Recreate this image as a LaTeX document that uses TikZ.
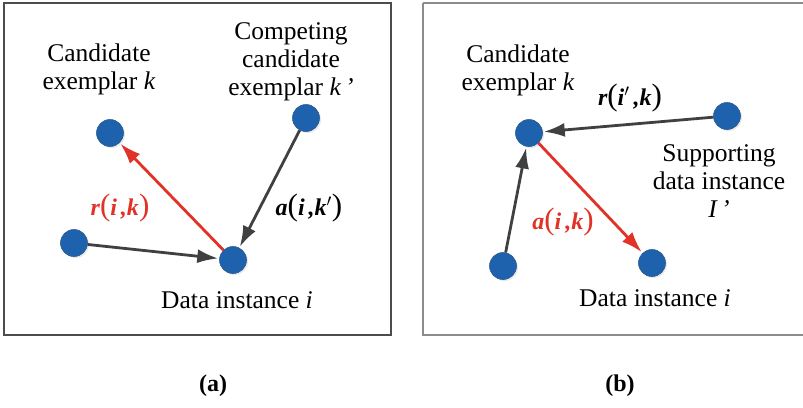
\documentclass[tikz,border=0pt]{standalone}
\usepackage{fontspec}
\setmainfont{Liberation Serif}
\usetikzlibrary{arrows.meta,shadows}
\definecolor{DotBlue}{HTML}{1E62AE}
\definecolor{DotEdge}{HTML}{2A5A90}
\definecolor{ArrRed}{HTML}{E23127}
\definecolor{ArrGray}{HTML}{404040}

\newcommand{\bigpar}[1]{{\fontsize{31}{31}\selectfont\upshape\mdseries#1}}

\tikzset{
  dot/.style={circle, minimum size=27pt, inner sep=0pt, fill=DotBlue, draw=DotEdge, line width=0.6pt,
    drop shadow={shadow xshift=1.5pt, shadow yshift=-1.5pt, opacity=0.18}},
  txt/.style={font=\fontsize{25.5}{28}\selectfont, align=center, text=black},
  lbl/.style={font=\fontsize{24}{26}\selectfont\bfseries\itshape},
  msg/.style={-{Latex[length=21pt,width=14pt]}, line width=2.8pt, ArrGray, shorten >=1pt},
  hot/.style={msg, ArrRed},
}

\begin{document}
\begin{tikzpicture}[x=1pt, y=-1pt]
    \useasboundingbox (0,0) rectangle (803,407);

    % Panel frames
    \draw[line width=1.2pt, black!70] (4,3) rectangle (391,335);
    \draw[line width=1.2pt, black!45] (423,3) -- (423,335) -- (803,335);
    \draw[line width=1.2pt, black!45] (423,3) -- (803,3);

    % (a) responsibility
    \node[dot] (ka) at (110,133) {};
    \node[dot] (kpa) at (306,118) {};
    \node[dot] (oa) at (74,243) {};
    \node[dot] (ia) at (233,260) {};

    \node[txt] (ka-txt) at (99,69) {Candidate\\exemplar \textit{k}};
    \node[txt] (kpa-txt) at (291,62) {Competing\\candidate\\exemplar \textit{k\,’}};
    \node[txt] (ia-txt) at (237,300) {Data instance \textit{i}};

    \draw[hot] (ia) -- (ka);
    \draw[msg] (kpa) -- (ia);
    \draw[msg] (oa) -- (ia);

    \node[lbl, ArrRed] (r-a) at (120,208) {r\bigpar{(}i\,,k\bigpar{)}};
    \node[lbl] (a-a) at (309,208) {a\bigpar{(}i\,,k$'$\bigpar{)}};

    % (b) availability
    \node[dot] (kb) at (529,133) {};
    \node[dot] (sb) at (727,116) {};
    \node[dot] (ob) at (503,266) {};
    \node[dot] (ib) at (652,263) {};

    \node[txt] (kb-txt) at (518,70) {Candidate\\exemplar \textit{k}};
    \node[txt] (sb-txt) at (719,181) {Supporting\\data instance\\\textit{I\,’}};
    \node[txt] (ib-txt) at (655,298) {Data instance \textit{i}};

    \draw[msg] (sb) -- (kb);
    \draw[msg] (ob) -- (kb);
    \draw[hot] (kb) -- (ib);

    \node[lbl] (r-b) at (630,98) {r\bigpar{(}i$'$\,,k\bigpar{)}};
    \node[lbl, ArrRed] (a-b) at (563,222) {a\bigpar{(}i\,,k\bigpar{)}};

    % Captions
    \node[font=\fontsize{24}{26}\selectfont\bfseries] (cap-a) at (213,386) {(a)};
    \node[font=\fontsize{24}{26}\selectfont\bfseries] (cap-b) at (620,386) {(b)};
\end{tikzpicture}
\end{document}
